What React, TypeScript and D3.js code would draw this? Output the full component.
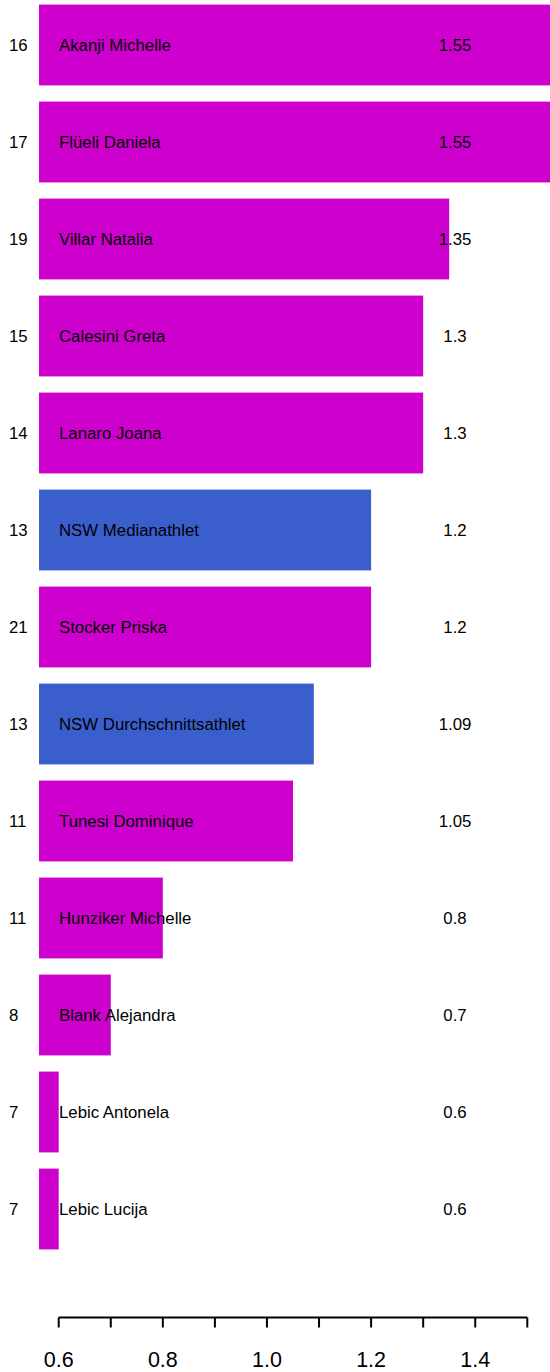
import React from "react";
import * as d3 from "d3";

const names = [
  "Akanji Michelle",
  "Flüeli Daniela",
  "Villar Natalia",
  "Calesini Greta",
  "Lanaro Joana",
  "NSW Medianathlet",
  "Stocker Priska",
  "NSW Durchschnittsathlet",
  "Tunesi Dominique",
  "Hunziker Michelle",
  "Blank Alejandra",
  "Lebic Antonela",
  "Lebic Lucija",
];
const values = [1.55, 1.55, 1.35, 1.3, 1.3, 1.2, 1.2, 1.09, 1.05, 0.8, 0.7, 0.6, 0.6];
const counts = [16, 17, 19, 15, 14, 13, 21, 13, 11, 11, 8, 7, 7];
const groups = ["athlete", "athlete", "athlete", "athlete", "athlete", "nsw", "athlete", "nsw", "athlete", "athlete", "athlete", "athlete", "athlete"];
const tickValues = [0.6, 0.7, 0.8, 0.9, 1.0, 1.1, 1.2, 1.3, 1.4, 1.5];
const tickLabels = ["0.6", "", "0.8", "", "1.0", "", "1.2", "", "1.4", ""];
const baseValue = 0.5622;

const W = 550;
const H = 1372;
const FONT = "Liberation Sans, Arial, sans-serif";

export default function App() {
  const x = d3.scaleLinear().domain([0.6, 1.5]).range([58.7, 527.3]);
  const step = 97;
  const c0 = 45;
  const y = d3
    .scaleBand<number>()
    .domain(d3.range(names.length))
    .range([c0 - step / 2, c0 - step / 2 + step * names.length])
    .paddingInner(0.2 / 1.2)
    .paddingOuter(0.1 / 1.2);
  const color = d3.scaleOrdinal<string, string>().domain(["athlete", "nsw"]).range(["#CD00CD", "#3A5FCD"]);
  const axisY = 1317.5;

  return (
    <svg
      width={W}
      height={H}
      style={{ position: "absolute", left: 0, top: 0, background: "#fff" }}
      fontFamily={FONT}
    >
      <rect x={0} y={0} width={W} height={H} fill="#fff" />
      {names.map((n, i) => {
        const yc = (y(i) as number) + y.bandwidth() / 2;
        return (
          <g key={i}>
            <rect
              x={x(baseValue)}
              y={y(i)}
              width={Math.min(x(values[i]), W) - x(baseValue)}
              height={y.bandwidth()}
              fill={color(groups[i])}
            />
            <text x={9} y={yc + 6} fontSize={16.8} fill="#000">
              {counts[i]}
            </text>
            <text x={59} y={yc + 6} fontSize={16.8} fill="#000">
              {n}
            </text>
            <text x={455} y={yc + 6} fontSize={16.8} fill="#000" textAnchor="middle">
              {String(values[i])}
            </text>
          </g>
        );
      })}
      <line x1={x(0.6)} x2={x(1.5)} y1={axisY} y2={axisY} stroke="#000" strokeWidth={2} />
      {tickValues.map((t, i) => (
        <g key={t}>
          <line x1={x(t)} x2={x(t)} y1={axisY} y2={axisY + 10} stroke="#000" strokeWidth={2} />
          {tickLabels[i] && (
            <text x={x(t)} y={1367} fontSize={21.5} textAnchor="middle" fill="#000">
              {tickLabels[i]}
            </text>
          )}
        </g>
      ))}
    </svg>
  );
}
